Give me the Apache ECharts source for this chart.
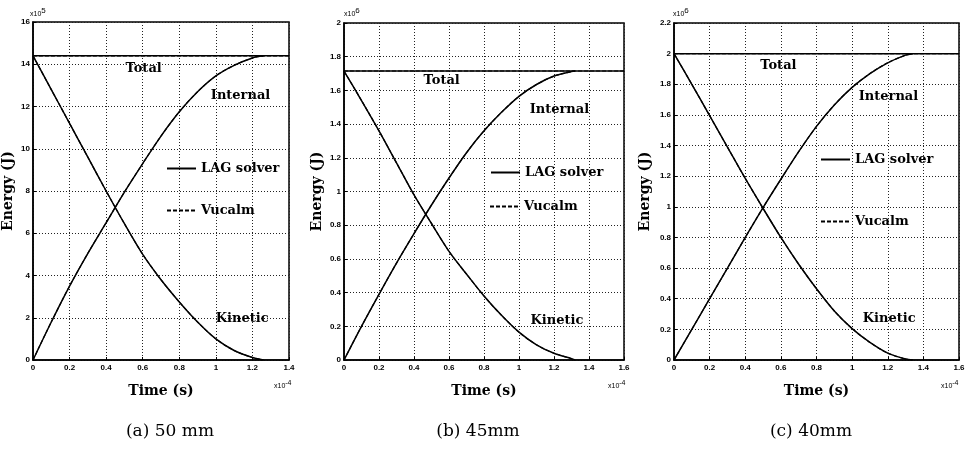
<!DOCTYPE html>
<html><head><meta charset="utf-8">
<script src="https://cdn.jsdelivr.net/npm/echarts@6/dist/echarts.min.js"></script>
<style>html,body{margin:0;padding:0;background:#fff}#c{width:973px;height:452px}</style>
</head><body><div id="c"></div>
<script>
// ---- data (energies: (a) x10^5 J, (b),(c) x10^6 J; time x10^-4 s) ----
const timeA = [0, 0.1, 0.2, 0.3, 0.4, 0.5, 0.6, 0.7, 0.8, 0.9, 1.0, 1.1, 1.2, 1.26];
const kineticA = [14.4, 12.8, 11.2, 9.6, 8.0, 6.45, 5.0, 3.8, 2.75, 1.8, 1.0, 0.45, 0.12, 0];
const internalA = [0, 1.8, 3.5, 5.05, 6.5, 7.95, 9.3, 10.6, 11.75, 12.7, 13.45, 13.95, 14.3, 14.4];
const totalTimeA = [0, 1.4];
const totalA = [14.4, 14.4];

const timeB = [0, 0.1, 0.2, 0.3, 0.4, 0.5, 0.6, 0.7, 0.8, 0.9, 1.0, 1.1, 1.2, 1.3, 1.32];
const kineticB = [1.715, 1.54, 1.36, 1.17, 0.98, 0.81, 0.645, 0.51, 0.38, 0.265, 0.165, 0.09, 0.04, 0.008, 0];
const internalB = [0, 0.2, 0.39, 0.575, 0.75, 0.92, 1.08, 1.23, 1.36, 1.47, 1.565, 1.635, 1.685, 1.712, 1.715];
const totalTimeB = [0, 1.6];
const totalB = [1.715, 1.715];

const timeC = [0, 0.1, 0.2, 0.3, 0.4, 0.5, 0.6, 0.7, 0.8, 0.9, 1.0, 1.1, 1.2, 1.3, 1.34];
const kineticC = [2.0, 1.8, 1.595, 1.39, 1.185, 0.99, 0.8, 0.625, 0.465, 0.32, 0.205, 0.115, 0.045, 0.006, 0];
const internalC = [0, 0.2, 0.4, 0.6, 0.8, 0.995, 1.18, 1.36, 1.525, 1.665, 1.78, 1.87, 1.94, 1.99, 2.0];
const totalTimeC = [0, 1.6];
const totalC = [2.0, 2.0];

const captions = ['(a) 50 mm', '(b) 45mm', '(c) 40mm'];
const yExponents = ['5', '6', '6'];
const xExponent = '-4';
const curveNames = ['Total', 'Internal', 'Kinetic'];
const xTitle = 'Time (s)';
const yTitle = 'Energy (J)';
const solverNames = ['LAG solver', 'Vucalm'];

// ---- layout ----
const panels = [
  { t: timeA, k: kineticA, i: internalA, tt: totalTimeA, tot: totalA,
    grid: { left: 30, top: 22, width: 259, height: 338 }, xMax: 1.4, yMax: 16, yInt: 2, nameGap: 18,
    notes: [[0.605, 13.78], [1.135, 12.5], [1.144, 1.94]],
    leg: [[166, 162], [166, 204]], capX: 170, expY: [30, 7], expX: [274, 380] },
  { t: timeB, k: kineticB, i: internalB, tt: totalTimeB, tot: totalB,
    grid: { left: 344, top: 23, width: 280, height: 337 }, xMax: 1.6, yMax: 2, yInt: 0.2, nameGap: 20,
    notes: [[0.558, 1.656], [1.231, 1.484], [1.217, 0.233]],
    leg: [[490, 166], [489, 200]], capX: 478, expY: [344, 7], expX: [608, 380] },
  { t: timeC, k: kineticC, i: internalC, tt: totalTimeC, tot: totalC,
    grid: { left: 674, top: 23, width: 285, height: 337 }, xMax: 1.6, yMax: 2.2, yInt: 0.2, nameGap: 22,
    notes: [[0.586, 1.921], [1.204, 1.719], [1.208, 0.272]],
    leg: [[820, 153], [820, 215]], capX: 811, expY: [673, 7], expX: [941, 380] }
];

const serif = 'DejaVu Serif, serif';
const tickFont = { fontFamily: 'Liberation Sans Narrow, Liberation Sans, sans-serif', fontWeight: 'bold', fontSize: 8, color: '#000' };
const zip = (a, b) => a.map((v, j) => [v, b[j]]);

const option = { animation: false, backgroundColor: '#fff', grid: [], xAxis: [], yAxis: [], series: [], legend: [], title: [], graphic: [] };

panels.forEach((p, n) => {
  option.grid.push(Object.assign({ show: true, borderColor: '#000', borderWidth: 1.5, backgroundColor: 'transparent' }, p.grid));
  option.xAxis.push({
    type: 'value', gridIndex: n, min: 0, max: p.xMax, interval: 0.2,
    name: xTitle, nameLocation: 'middle', nameGap: 24,
    nameTextStyle: { fontFamily: serif, fontSize: 14, fontWeight: 'bold', color: '#000' },
    axisLine: { show: true, onZero: false, lineStyle: { color: '#000', width: 1.5 } },
    axisTick: { show: true, inside: true, length: 3, lineStyle: { color: '#000' } },
    axisLabel: Object.assign({ margin: 4 }, tickFont),
    splitLine: { show: true, lineStyle: { color: '#222', width: 1, type: [1, 2] } }
  });
  option.yAxis.push({
    type: 'value', gridIndex: n, min: 0, max: p.yMax, interval: p.yInt,
    name: yTitle, nameLocation: 'middle', nameGap: p.nameGap,
    nameTextStyle: { fontFamily: serif, fontSize: 14, fontWeight: 'bold', color: '#000' },
    axisLine: { show: true, onZero: false, lineStyle: { color: '#000', width: 1.5 } },
    axisTick: { show: true, inside: true, length: 3, lineStyle: { color: '#000' } },
    axisLabel: Object.assign({ margin: 3 }, tickFont),
    splitLine: { show: true, lineStyle: { color: '#222', width: 1, type: [1, 2] } }
  });
  const solid = { color: '#000', width: 1.5, type: 'solid' };
  const dash = { color: '#000', width: 1.2, type: [4, 2] };
  [[p.tt, p.tot], [p.t, p.k], [p.t, p.i]].forEach(([tx, vy]) => {
    option.series.push({ type: 'line', name: solverNames[0], xAxisIndex: n, yAxisIndex: n, data: zip(tx, vy),
      symbol: 'none', smooth: 0.3, lineStyle: solid, itemStyle: { color: '#000' }, z: 3 });
  });
  [[p.tt, p.tot], [p.t, p.k], [p.t, p.i]].forEach(([tx, vy]) => {
    option.series.push({ type: 'line', name: solverNames[1], xAxisIndex: n, yAxisIndex: n, data: zip(tx, vy),
      symbol: 'none', smooth: 0.3, lineStyle: dash, itemStyle: { color: '#000' }, z: 4 });
  });
  option.series.push({
    type: 'scatter', name: 'notes' + n, xAxisIndex: n, yAxisIndex: n, symbol: 'circle', symbolSize: 0.01, silent: true, z: 10,
    itemStyle: { opacity: 1, color: '#000' },
    data: p.notes.map((c, j) => ({ value: c, name: curveNames[j] })),
    label: { show: true, position: 'inside', formatter: q => q.name,
      fontFamily: serif, fontSize: 13, fontWeight: 'bold', color: '#000', textBorderWidth: 0 }
  });
  solverNames.forEach((nm, j) => {
    option.legend.push({
      data: [nm], left: p.leg[j][0], top: p.leg[j][1], padding: 0, itemWidth: 29, itemHeight: 14, itemGap: 0,
      selectedMode: false, itemStyle: { opacity: 0 },
      textStyle: { fontFamily: serif, fontSize: 13, fontWeight: 'bold', color: '#000' }
    });
  });
  option.title.push({
    text: captions[n], left: p.capX, top: 423, textAlign: 'center', padding: 0,
    textStyle: { fontFamily: serif, fontSize: 17, fontWeight: 'normal', color: '#000' }
  });
  option.graphic.push({
    type: 'text', left: p.expY[0], top: p.expY[1], silent: true,
    style: { text: '{a|x10}{b|' + yExponents[n] + '}', rich: { a: { fontSize: 7, fontFamily: 'Liberation Sans Narrow, sans-serif', fill: '#000', padding: [6, 0, 0, 0] }, b: { fontSize: 8, fontFamily: 'Liberation Sans Narrow, sans-serif', fill: '#000' } } }
  });
  option.graphic.push({
    type: 'text', left: p.expX[0], top: p.expX[1], silent: true,
    style: { text: '{a|x10}{b|' + xExponent + '}', rich: { a: { fontSize: 7, fontFamily: 'Liberation Sans Narrow, sans-serif', fill: '#000', padding: [6, 0, 0, 0] }, b: { fontSize: 7, fontFamily: 'Liberation Sans Narrow, sans-serif', fill: '#000' } } }
  });
});

const chart = echarts.init(document.getElementById('c'), null, { renderer: 'canvas' });
chart.setOption(option);
</script></body></html>
